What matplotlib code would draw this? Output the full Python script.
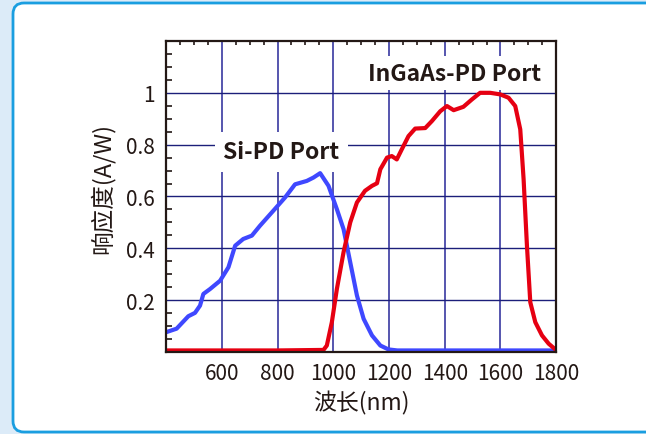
import matplotlib
matplotlib.use('Agg')
import matplotlib.pyplot as plt
from matplotlib.patches import FancyBboxPatch

plt.rcParams['font.family'] = ['Noto Sans CJK SC', 'DejaVu Sans']

# Si-PD port responsivity (A/W) vs wavelength (nm)
si_wl = [402, 438, 480, 504, 522, 534, 558, 594, 624, 648, 677, 708, 737, 785,
         827, 863, 905, 929, 953, 983, 1013, 1037, 1061, 1085, 1109, 1139,
         1169, 1198, 1230, 1400, 1600, 1800]
si_resp = [0.077, 0.09, 0.138, 0.151, 0.179, 0.224, 0.243, 0.275, 0.327, 0.41,
           0.436, 0.449, 0.487, 0.545, 0.596, 0.647, 0.66, 0.673, 0.69, 0.641,
           0.551, 0.474, 0.346, 0.218, 0.128, 0.064, 0.025, 0.01, 0.006,
           0.006, 0.006, 0.006]

# InGaAs-PD port
ig_wl = [400, 600, 800, 965, 977, 995, 1013, 1037, 1061, 1085, 1114, 1139,
         1157, 1169, 1193, 1210, 1228, 1246, 1270, 1294, 1330, 1354, 1384,
         1408, 1432, 1467, 1497, 1527, 1563, 1599, 1629, 1653, 1671, 1683,
         1695, 1707, 1725, 1749, 1773, 1797]
ig_resp = [0.006, 0.006, 0.006, 0.008, 0.025, 0.115, 0.243, 0.385, 0.5, 0.577,
           0.622, 0.641, 0.651, 0.705, 0.75, 0.756, 0.743, 0.782, 0.833, 0.862,
           0.864, 0.891, 0.929, 0.949, 0.933, 0.946, 0.974, 1.0, 1.0, 0.994,
           0.981, 0.949, 0.859, 0.667, 0.41, 0.192, 0.115, 0.064, 0.032, 0.01]

x_ticks = [600, 800, 1000, 1200, 1400, 1600, 1800]
y_ticks = [0.2, 0.4, 0.6, 0.8, 1.0]
y_labels = ['0.2', '0.4', '0.6', '0.8', '1']

fig = plt.figure(figsize=(6.46, 4.35), dpi=100)
fig.patch.set_facecolor('#dcebf8')
# white rounded panel with blue border
panel = FancyBboxPatch((0.13, 0.02), 7.0, 4.29,
                       boxstyle='round,pad=0,rounding_size=0.11',
                       transform=fig.dpi_scale_trans, facecolor='white',
                       edgecolor='#1a9ee0', linewidth=2.0, zorder=-10)
fig.patches.append(panel)

ax = fig.add_axes([0.257, 0.1885, 0.604, 0.715])
ax.set_facecolor('white')
ax.set_xlim(400, 1800)
ax.set_ylim(0, 1.2)

for v in [600, 800, 1000, 1200, 1400, 1600]:
    ax.axvline(v, color='#4848a8', lw=1.3, zorder=1)
for h in y_ticks:
    ax.axhline(h, color='#1c1f7a', lw=1.0, zorder=1)

ax.plot(si_wl, si_resp, color='#3f48ff', lw=3.0, zorder=4,
        solid_joinstyle='round', solid_capstyle='round')
ax.plot(ig_wl, ig_resp, color='#e60012', lw=3.0, zorder=5,
        solid_joinstyle='round', solid_capstyle='round')

ax.text(605, 0.772, 'Si-PD Port', fontsize=16.5, fontweight='bold',
        color='#231815', ha='left', va='center', zorder=3,
        bbox=dict(facecolor='white', edgecolor='none', pad=6))
ax.text(1125, 1.076, 'InGaAs-PD Port', fontsize=16.5, fontweight='bold',
        color='#231815', ha='left', va='center', zorder=3,
        bbox=dict(facecolor='white', edgecolor='none', pad=4))

ax.set_xticks(x_ticks)
ax.set_yticks(y_ticks)
ax.set_yticklabels(y_labels)
ax.set_xticks(range(400, 1801, 50), minor=True)
ax.set_yticks([i * 0.05 for i in range(0, 25)], minor=True)
ax.tick_params(which='major', length=0, labelsize=15, colors='#231815')
ax.tick_params(axis='x', which='major', pad=7)
ax.tick_params(axis='y', which='major', pad=8)
ax.tick_params(axis='x', which='minor', direction='in', top=True,
               bottom=False, length=3, width=1.2, color='#231815')
ax.tick_params(axis='y', which='minor', direction='in', left=True,
               length=4, width=1.2, color='#231815')

for s in ax.spines.values():
    s.set_color('#231815')
    s.set_linewidth(1.6)
    s.set_zorder(6)

ax.set_xlabel('波长(nm)', fontsize=16.5, color='#231815', labelpad=5)
ax.set_ylabel('响应度(A/W)', fontsize=17, color='#231815', labelpad=8)
ax.yaxis.label.set_y(0.53)

fig.savefig('out.png', dpi=100, facecolor=fig.get_facecolor())
